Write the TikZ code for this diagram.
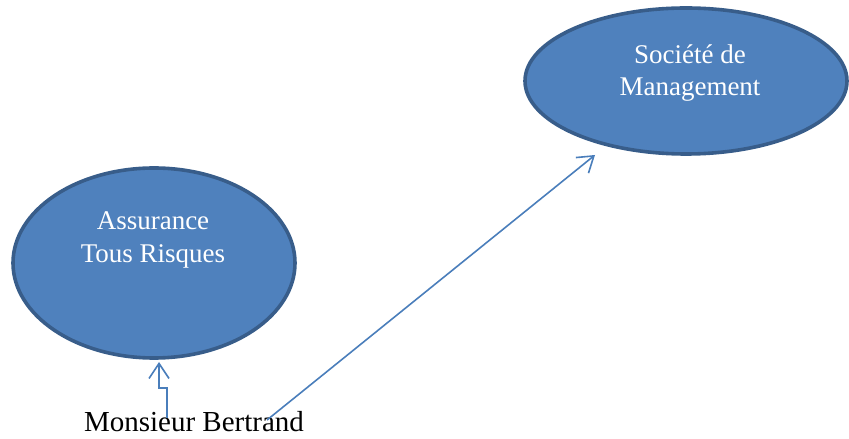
\documentclass[tikz,border=0pt]{standalone}
\usepackage{fontspec}
\setmainfont{Liberation Serif}
\usetikzlibrary{shapes.geometric,arrows.meta}
\definecolor{efill}{HTML}{4F81BD}
\definecolor{edraw}{HTML}{385D8A}
\definecolor{conn}{HTML}{4A7EBB}
\tikzset{
  bubble/.style={ellipse, fill=efill, draw=edraw, line width=3.6pt, inner sep=0pt},
  btext/.style={text=white, align=center, inner sep=0pt, font=\fontsize{27}{32.5}\selectfont},
  conn/.style={draw=conn, line width=1.6pt, -{Straight Barb[length=15pt,width=20pt]}},
}
\begin{document}
\begin{tikzpicture}[x=1pt,y=1pt]
\useasboundingbox (0,0) rectangle (849,439);
\node[bubble, minimum width=282pt, minimum height=190pt] (assur) at (154,176) {};
\node[btext] (assurT) at (153,199) {Assurance\\Tous Risques};
\node[bubble, minimum width=322pt, minimum height=146pt] (soc) at (686,358) {};
\node[btext] (socT) at (690,366) {Société de\\Management};
\node[anchor=base, inner sep=0pt, font=\fontsize{29}{34}\selectfont] (bert) at (194,7.3) {Monsieur Bertrand};
\coordinate (s1) at (167,21);
\coordinate (k1) at (159,51);
\coordinate (t1) at (159,77);
\draw[conn] (s1) |- (k1) -- (t1);
\coordinate (s2) at (267,19);
\coordinate (t2) at (595,284);
\draw[conn] (s2) -- (t2);
\end{tikzpicture}
\end{document}
